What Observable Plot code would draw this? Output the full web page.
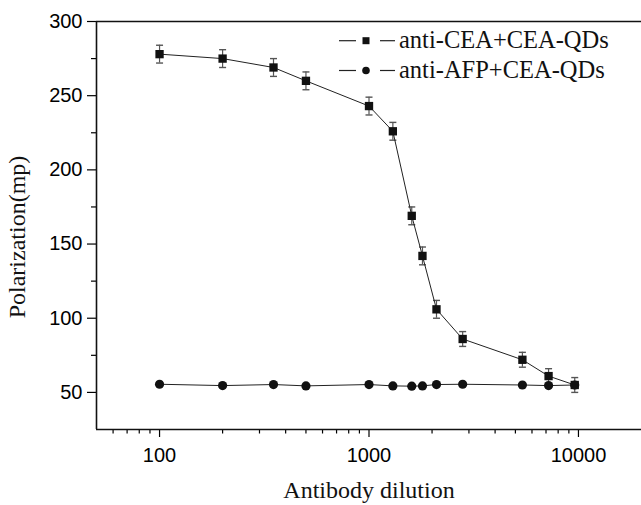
<!DOCTYPE html>
<html>
<head>
<meta charset="utf-8">
<script src="https://cdn.jsdelivr.net/npm/d3@7"></script>
<script src="https://cdn.jsdelivr.net/npm/@observablehq/plot@0.6"></script>
<style>
  body { margin: 0; background: #fff; }
  #wrap { position: relative; width: 641px; height: 505px; }
  #legend { position: absolute; left: 0; top: 0; pointer-events: none; }
</style>
</head>
<body>
<div id="wrap"></div>
<script>
// Data
const dilutions = [100, 200, 350, 500, 1000, 1300, 1600, 1800, 2100, 2800, 5400, 7200, 9600];
const ceaValues = [278, 275, 269, 260, 243, 226, 169, 142, 106, 86, 72, 61, 55];
const ceaErrors = [6, 6, 6, 6, 6, 6, 6, 6, 6, 5, 5, 5, 5];
const afpValues = [55.5, 54.6, 55.3, 54.4, 55.3, 54.4, 54.2, 54.4, 55.3, 55.5, 55, 54.6, 55];
const seriesNames = ["anti-CEA+CEA-QDs", "anti-AFP+CEA-QDs"];
const xMajorTicks = [100, 1000, 10000];
const xMinorTicks = [60, 70, 80, 90, 200, 300, 400, 500, 600, 700, 800, 900,
                     2000, 3000, 4000, 5000, 6000, 7000, 8000, 9000];
const yMajorTicks = [50, 100, 150, 200, 250, 300];
const yMinorTicks = [75, 125, 175, 225, 275];
const xTitle = "Antibody dilution";
const yTitle = "Polarization(mp)";

const cea = dilutions.map((d, i) => ({x: d, y: ceaValues[i], e: ceaErrors[i]}));
const afp = dilutions.map((d, i) => ({x: d, y: afpValues[i]}));

const capSymbol = {
  draw(context) {
    context.moveTo(-3.5, 0);
    context.lineTo(3.5, 0);
  }
};

const sans = "'Liberation Sans', Arial, sans-serif";
const serif = "'Liberation Serif', 'Times New Roman', serif";

const chart = Plot.plot({
  width: 641,
  height: 505,
  marginLeft: 96,
  marginTop: 21,
  marginBottom: 76,
  marginRight: 0,
  style: {fontFamily: sans, fontSize: "20px", color: "black", background: "white"},
  x: {type: "log", domain: [50, 20000]},
  y: {domain: [25, 300]},
  marks: [
    Plot.axisX({ticks: xMinorTicks, tickSize: 4.5, text: null, label: null, strokeWidth: 1.2}),
    Plot.axisX({ticks: xMajorTicks, tickSize: 8, tickPadding: 10, tickFormat: d => String(d),
                label: null, fontSize: 20, strokeWidth: 1.2}),
    Plot.axisY({ticks: yMinorTicks, tickSize: 5, text: null, label: null, strokeWidth: 1.2}),
    Plot.axisY({ticks: yMajorTicks, tickSize: 9, tickPadding: 5, label: null, fontSize: 20, strokeWidth: 1.2}),
    Plot.ruleY([25], {stroke: "#111", strokeWidth: 1.6}),
    Plot.ruleY([300], {stroke: "#111", strokeWidth: 1.6}),
    Plot.ruleX([50], {stroke: "#111", strokeWidth: 1.6}),
    // error bars
    Plot.ruleX(cea, {x: "x", y1: d => d.y - d.e, y2: d => d.y + d.e, stroke: "#555", strokeWidth: 1.2}),
    Plot.dot(cea, {x: "x", y: d => d.y + d.e, symbol: capSymbol, stroke: "#555", strokeWidth: 1.4}),
    Plot.dot(cea, {x: "x", y: d => d.y - d.e, symbol: capSymbol, stroke: "#555", strokeWidth: 1.4}),
    // lines
    Plot.line(afp, {x: "x", y: "y", stroke: "#222", strokeWidth: 1}),
    Plot.line(cea, {x: "x", y: "y", stroke: "#222", strokeWidth: 1}),
    Plot.dot(afp, {x: "x", y: "y", symbol: "circle", r: 4.6, fill: "#111", stroke: "none"}),
    Plot.dot(cea, {x: "x", y: "y", symbol: "square", r: 4.7, fill: "#111", stroke: "none"}),
    // axis titles
    Plot.text([xTitle], {frameAnchor: "bottom", dy: 68, lineAnchor: "bottom", textAnchor: "middle",
                         fontFamily: serif, fontSize: 24, fill: "#111"}),
    Plot.text([yTitle], {frameAnchor: "left", rotate: -90, dx: -72, dy: 11.5, lineAnchor: "bottom",
                         textAnchor: "middle", fontFamily: serif, fontSize: 24, fill: "#111"})
  ]
});

const wrap = document.getElementById("wrap");
wrap.appendChild(chart);

// Legend (overlay)
const ns = "http://www.w3.org/2000/svg";
const leg = document.createElementNS(ns, "svg");
leg.setAttribute("id", "legend");
leg.setAttribute("width", 641);
leg.setAttribute("height", 505);
const rows = [{cy: 40.7, sym: "square"}, {cy: 70.5, sym: "circle"}];
rows.forEach((r, i) => {
  const g = document.createElementNS(ns, "g");
  [[339, 356], [380, 395]].forEach(([a, b]) => {
    const l = document.createElementNS(ns, "line");
    l.setAttribute("x1", a); l.setAttribute("x2", b);
    l.setAttribute("y1", r.cy); l.setAttribute("y2", r.cy);
    l.setAttribute("stroke", "#222"); l.setAttribute("stroke-width", 1.2);
    g.appendChild(l);
  });
  let m;
  if (r.sym === "square") {
    m = document.createElementNS(ns, "rect");
    m.setAttribute("x", 366 - 3.5); m.setAttribute("y", r.cy - 3.5);
    m.setAttribute("width", 7); m.setAttribute("height", 7);
  } else {
    m = document.createElementNS(ns, "circle");
    m.setAttribute("cx", 366); m.setAttribute("cy", r.cy); m.setAttribute("r", 3.8);
  }
  m.setAttribute("fill", "#111");
  g.appendChild(m);
  const t = document.createElementNS(ns, "text");
  t.setAttribute("x", 399);
  t.setAttribute("y", r.cy + 7);
  t.setAttribute("font-family", serif);
  t.setAttribute("font-size", 24.5);
  t.setAttribute("fill", "#111");
  t.textContent = seriesNames[i];
  g.appendChild(t);
  leg.appendChild(g);
});
wrap.appendChild(leg);
</script>
</body>
</html>
